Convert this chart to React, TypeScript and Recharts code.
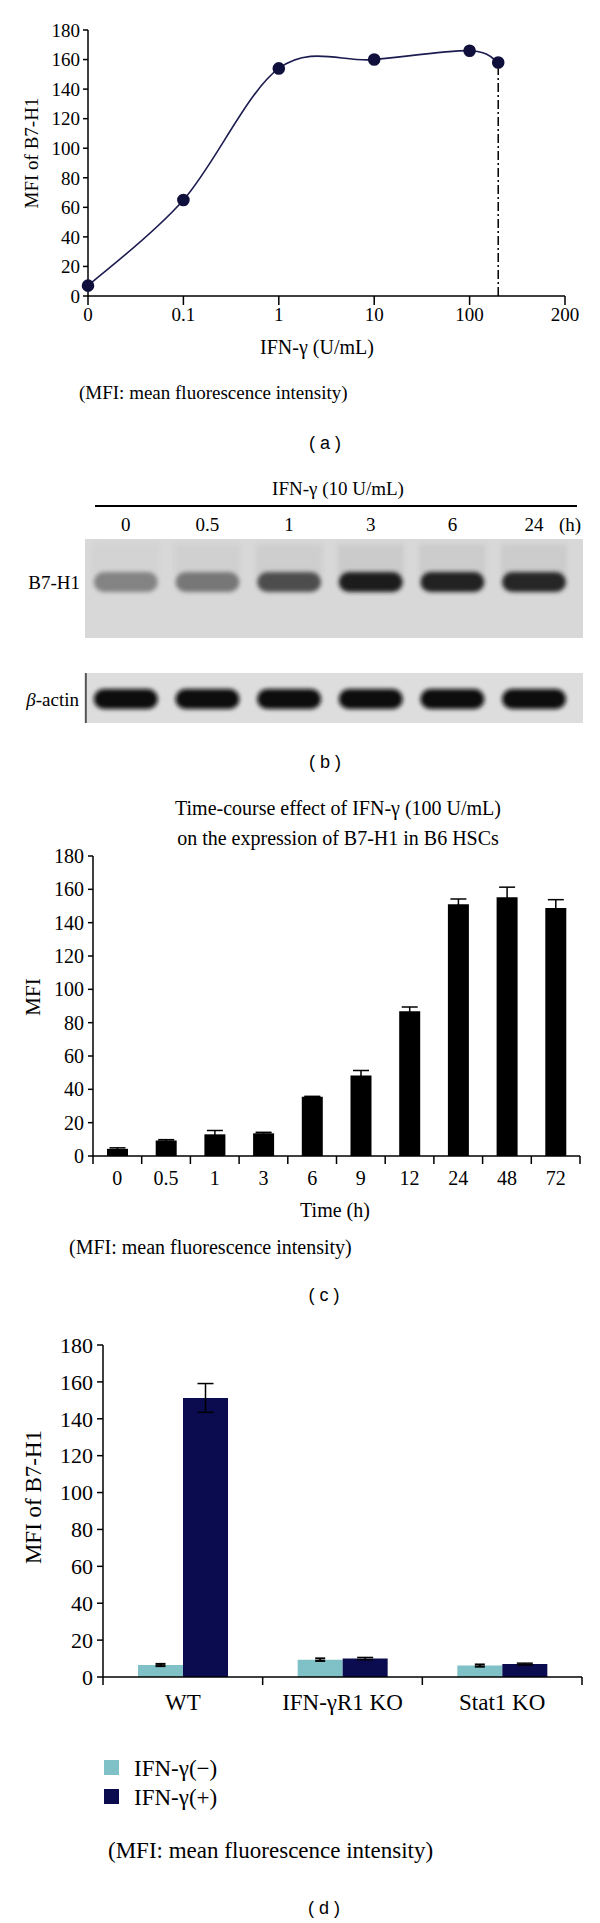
import React from 'react';
import {
  LineChart, Line, XAxis, YAxis, ReferenceLine,
  BarChart, Bar, ErrorBar, ScatterChart, Scatter, ReferenceArea,
} from 'recharts';

// ---------- Panel (a): dose response ----------
const doseLabels = ['0', '0.1', '1', '10', '100', '200'];
const dosePositions = [0, 1, 2, 3, 4, 4.3];
const doseMfi = [7, 65, 154, 160, 166, 158];

// ---------- Panel (b): western blot lanes ----------
const laneLabels = ['0', '0.5', '1', '3', '6', '24'];
const b7h1Density = [0.42, 0.47, 0.66, 0.88, 0.86, 0.83];
const actinDensity = [0.95, 0.95, 0.95, 0.95, 0.95, 0.95];

// ---------- Panel (c): time course ----------
const timeLabels = ['0', '0.5', '1', '3', '6', '9', '12', '24', '48', '72'];
const timeMfi = [4.3, 9.3, 13, 13.6, 35.5, 48.3, 86.8, 151, 155.3, 148.8];
const timeErr = [0.6, 0.5, 2.3, 0.6, 0.3, 3, 2.6, 3.2, 6, 5];

// ---------- Panel (d): knockouts ----------
const groupLabels = ['WT', 'IFN-γR1 KO', 'Stat1 KO'];
const minusMfi = [6.5, 9.4, 6.2];
const minusErr = [0.6, 0.7, 0.6];
const plusMfi = [151.3, 10, 7];
const plusErr = [7.8, 0.6, 0.5];
const seriesNames = ['IFN-γ(−)', 'IFN-γ(+)'];
const seriesColors = ['#7fc1c6', '#0b0b4f'];

const yTicks = [0, 20, 40, 60, 80, 100, 120, 140, 160, 180];

const FONT = '"Liberation Serif", "Times New Roman", serif';
const SANS = '"Liberation Sans", Arial, sans-serif';

const doseData = dosePositions.map((p, i) => ({ x: p, y: doseMfi[i] }));
const b7Data = laneLabels.map((_, i) => ({ lane: i, row: 1, d: b7h1Density[i] }));
const actinData = laneLabels.map((_, i) => ({ lane: i, row: 0, d: actinDensity[i] }));
const timeData = timeLabels.map((t, i) => ({ t, v: timeMfi[i], e: timeErr[i] }));
const groupData = groupLabels.map((g, i) => ({
  g, minus: minusMfi[i], minusErr: minusErr[i], plus: plusMfi[i], plusErr: plusErr[i],
}));

// Catmull-Rom style smoothing (like a spreadsheet "smoothed line")
const smoothCurve = (context: any) => {
  let pts: number[][] = [];
  return {
    areaStart() {},
    areaEnd() {},
    lineStart() { pts = []; },
    point(x: number, y: number) { pts.push([+x, +y]); },
    lineEnd() {
      const n = pts.length;
      if (!n) return;
      context.moveTo(pts[0][0], pts[0][1]);
      for (let i = 0; i < n - 1; i++) {
        const p0 = pts[i - 1] || pts[i];
        const p1 = pts[i];
        const p2 = pts[i + 1];
        const p3 = pts[i + 2] || p2;
        context.bezierCurveTo(
          p1[0] + (p2[0] - p0[0]) / 6, p1[1] + (p2[1] - p0[1]) / 6,
          p2[0] - (p3[0] - p1[0]) / 6, p2[1] - (p3[1] - p1[1]) / 6,
          p2[0], p2[1],
        );
      }
    },
  };
};

type TP = {
  x: number; y: number; children: React.ReactNode; size?: number;
  anchor?: 'start' | 'middle' | 'end'; family?: string; rotate?: number;
};
const T = ({ x, y, children, size = 19, anchor = 'start', family = FONT, rotate = 0 }: TP) => {
  const tx = anchor === 'middle' ? '-50%' : anchor === 'end' ? '-100%' : '0';
  return (
    <div
      style={{
        position: 'absolute', left: x, top: y, whiteSpace: 'nowrap', lineHeight: 1,
        fontSize: size, fontFamily: family, color: '#000',
        transform: `translate(${tx},-50%) rotate(${rotate}deg)`,
      }}
    >
      {children}
    </div>
  );
};

const makeBoundaryTick = (labels: string[], band: number, size: number, labelDy: number) =>
  (props: any) => {
    const { x, y, payload, index } = props;
    const half = band / 2;
    const last = index === labels.length - 1;
    return (
      <g>
        <line x1={x - half} x2={x - half} y1={y} y2={y + 8} stroke="#000" strokeWidth={1.5} />
        {last && <line x1={x + half} x2={x + half} y1={y} y2={y + 8} stroke="#000" strokeWidth={1.5} />}
        <text x={x} y={y + labelDy} textAnchor="middle" dominantBaseline="central"
          fontSize={size} fontFamily={FONT} fill="#000">{payload.value}</text>
      </g>
    );
  };

const Band = (props: any) => {
  const { cx, cy, payload } = props;
  const g = Math.round(225 * (1 - payload.d));
  const c = `rgb(${g},${g},${g})`;
  return (
    <g>
      {payload.row === 1 && (
        <rect x={cx - 33} y={cy - 38} width={66} height={30} fill={`rgba(90,90,90,${0.12 * payload.d})`}
          filter="url(#bandBlur)" />
      )}
      <rect x={cx - 32} y={cy - 10} width={64} height={20} rx={10} fill={c} filter="url(#bandBlur)" />
    </g>
  );
};

const axisStroke = { stroke: '#000', strokeWidth: 1.5 };

export default function App() {
  return (
    <div style={{ position: 'absolute', left: 0, top: 0, width: 600, height: 1923, background: '#fff', overflow: 'hidden' }}>
      {/* Panel (a) */}
      <div style={{ position: 'absolute', left: 0, top: 0 }}>
        <LineChart width={600} height={340} data={doseData} margin={{ top: 30, right: 35, left: 0, bottom: 0 }}>
          <XAxis type="number" dataKey="x" domain={[0, 5]} ticks={[0, 1, 2, 3, 4, 5]}
            tickFormatter={(v: number) => doseLabels[v]} axisLine={axisStroke}
            tickLine={{ stroke: '#000', strokeWidth: 1.5 }} tickSize={9} tickMargin={3} height={44}
            tick={{ fill: '#000', fontSize: 19, fontFamily: FONT }} />
          <YAxis type="number" domain={[0, 180]} ticks={yTicks} width={88} axisLine={axisStroke}
            tickLine={{ stroke: '#000', strokeWidth: 1.5 }} tickSize={5} tickMargin={3}
            tick={{ fill: '#000', fontSize: 19, fontFamily: FONT }} interval={0} />
          <ReferenceLine segment={[{ x: dosePositions[5], y: 0 }, { x: dosePositions[5], y: doseMfi[5] }]}
            stroke="#000" strokeWidth={1.5} strokeDasharray="9 3 2 3" />
          <Line type={smoothCurve as any} dataKey="y" stroke="#1c1c50" strokeWidth={1.6}
            dot={{ r: 5.5, fill: '#10103c', stroke: '#10103c' }} isAnimationActive={false} />
        </LineChart>
      </div>
      <T x={31} y={153} anchor="middle" rotate={-90} size={19}>MFI of B7-H1</T>
      <T x={317} y={347} anchor="middle" size={20}>IFN-γ (U/mL)</T>
      <T x={79} y={392} size={19}>(MFI: mean fluorescence intensity)</T>
      <T x={325} y={443} anchor="middle" size={18} family={SANS}>( a )</T>

      {/* Panel (b) */}
      <T x={338} y={488} anchor="middle" size={19}>IFN-γ (10 U/mL)</T>
      <div style={{ position: 'absolute', left: 95, top: 505, width: 482, height: 2, background: '#000' }} />
      <div style={{ position: 'absolute', left: 0, top: 480 }}>
        <ScatterChart width={600} height={250} margin={{ top: 29, right: 17, left: 85, bottom: 7 }}>
          <defs>
            <filter id="bandBlur" x="-30%" y="-60%" width="160%" height="220%">
              <feGaussianBlur stdDeviation="2.2" />
            </filter>
          </defs>
          <XAxis type="number" dataKey="lane" orientation="top" domain={[-0.5, 5.6]}
            ticks={[0, 1, 2, 3, 4, 5]} tickFormatter={(v: number) => laneLabels[v]}
            axisLine={false} tickLine={false} tickSize={0} tickMargin={8} height={30}
            tick={{ fill: '#000', fontSize: 19, fontFamily: FONT }} />
          <YAxis type="number" dataKey="row" domain={[-0.205, 1.368]} hide width={0} />
          <ReferenceArea x1={-0.5} x2={5.6} y1={0.521} y2={1.368} fill="#d8d8d8" fillOpacity={1} stroke="none" />
          <ReferenceArea x1={-0.5} x2={5.6} y1={-0.205} y2={0.222} fill="#dddddd" fillOpacity={1} stroke="none" />
          <ReferenceLine segment={[{ x: -0.49, y: -0.205 }, { x: -0.49, y: 0.222 }]} stroke="#555" strokeWidth={2} />
          <Scatter data={b7Data} shape={<Band />} isAnimationActive={false} />
          <Scatter data={actinData} shape={<Band />} isAnimationActive={false} />
        </ScatterChart>
      </div>
      <T x={570} y={524} anchor="middle" size={19}>(h)</T>
      <T x={80} y={582} anchor="end" size={19}>B7-H1</T>
      <T x={79} y={699} anchor="end" size={19}><i>β</i>-actin</T>
      <T x={325} y={762} anchor="middle" size={18} family={SANS}>( b )</T>

      {/* Panel (c) */}
      <T x={338} y={808} anchor="middle" size={20}>Time-course effect of IFN-γ (100 U/mL)</T>
      <T x={338} y={838} anchor="middle" size={20}>on the expression of B7-H1 in B6 HSCs</T>
      <div style={{ position: 'absolute', left: 0, top: 836 }}>
        <BarChart width={600} height={360} data={timeData} margin={{ top: 20, right: 20, left: 0, bottom: 0 }} barSize={21}>
          <XAxis dataKey="t" axisLine={axisStroke} tickLine={false} tickSize={0} tickMargin={0} height={40}
            interval={0} tick={makeBoundaryTick(timeLabels, 48.7, 20, 22)} />
          <YAxis type="number" domain={[0, 180]} ticks={yTicks} width={93} axisLine={axisStroke}
            tickLine={{ stroke: '#000', strokeWidth: 1.5 }} tickSize={5} tickMargin={4}
            tick={{ fill: '#000', fontSize: 20, fontFamily: FONT }} interval={0} />
          <Bar dataKey="v" fill="#000" isAnimationActive={false}>
            <ErrorBar dataKey="e" width={8} stroke="#000" strokeWidth={1.5} direction="y" />
          </Bar>
        </BarChart>
      </div>
      <T x={33} y={997} anchor="middle" rotate={-90} size={21}>MFI</T>
      <T x={335} y={1210} anchor="middle" size={20}>Time (h)</T>
      <T x={69} y={1247} size={20}>(MFI: mean fluorescence intensity)</T>
      <T x={324} y={1295} anchor="middle" size={18} family={SANS}>( c )</T>

      {/* Panel (d) */}
      <div style={{ position: 'absolute', left: 0, top: 1325 }}>
        <BarChart width={600} height={397} data={groupData} margin={{ top: 20, right: 18, left: 0, bottom: 0 }}
          barGap={0} barSize={45}>
          <XAxis dataKey="g" axisLine={axisStroke} tickLine={false} tickSize={0} tickMargin={0} height={45}
            interval={0} tick={makeBoundaryTick(groupLabels, 159.67, 23, 25)} />
          <YAxis type="number" domain={[0, 180]} ticks={yTicks} width={103} axisLine={axisStroke}
            tickLine={{ stroke: '#000', strokeWidth: 1.5 }} tickSize={6} tickMargin={4}
            tick={{ fill: '#000', fontSize: 22, fontFamily: FONT }} interval={0} />
          <Bar dataKey="minus" name={seriesNames[0]} fill={seriesColors[0]} isAnimationActive={false}>
            <ErrorBar dataKey="minusErr" width={5} stroke="#000" strokeWidth={2} direction="y" />
          </Bar>
          <Bar dataKey="plus" name={seriesNames[1]} fill={seriesColors[1]} isAnimationActive={false}>
            <ErrorBar dataKey="plusErr" width={8} stroke="#000" strokeWidth={1.5} direction="y" />
          </Bar>
        </BarChart>
      </div>
      <T x={33} y={1497} anchor="middle" rotate={-90} size={23}>MFI of B7-H1</T>
      {seriesNames.map((n, i) => (
        <React.Fragment key={n}>
          <div style={{ position: 'absolute', left: 104, top: 1760 + i * 29, width: 15, height: 15, background: seriesColors[i] }} />
          <T x={134} y={1768 + i * 29} size={23}>{n}</T>
        </React.Fragment>
      ))}
      <T x={108} y={1850} size={23}>(MFI: mean fluorescence intensity)</T>
      <T x={324} y={1908} anchor="middle" size={18} family={SANS}>( d )</T>
    </div>
  );
}
